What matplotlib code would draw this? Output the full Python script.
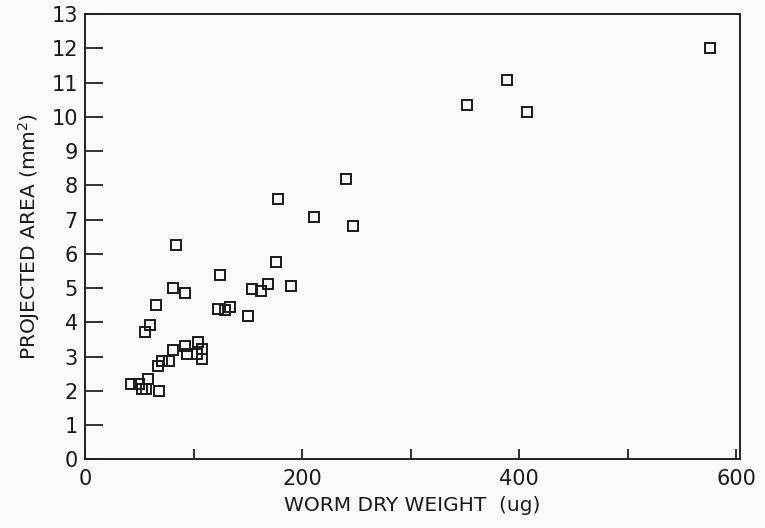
import numpy as np
import matplotlib
matplotlib.use('Agg')
import matplotlib.pyplot as plt

# worm dry weight (ug) vs projected area (mm^2)
weight = [576, 388.5, 352, 407, 240, 178, 211, 247, 84, 176, 124, 81.5, 92.5,
          154, 162, 169, 190, 150, 65, 60, 55, 122.5, 128.7, 133.5,
          81, 92, 104, 94.4, 103.6, 107.8, 107.5, 77.5, 71.4, 67.4,
          58.2, 42, 50, 52.4, 56.7, 67.8]
area = [12.0, 11.07, 10.34, 10.15, 8.19, 7.59, 7.09, 6.83, 6.25, 5.75, 5.39, 5.0, 4.86,
        4.98, 4.92, 5.13, 5.07, 4.2, 4.52, 3.92, 3.73, 4.38, 4.36, 4.44,
        3.19, 3.32, 3.42, 3.09, 3.09, 3.22, 2.94, 2.87, 2.86, 2.74,
        2.35, 2.21, 2.21, 2.06, 2.06, 1.99]

xticks = [0, 100, 200, 300, 400, 500, 600]
xlabels = ['0', '', '200', '', '400', '', '600']
yticks = list(range(0, 14))

plt.rcParams['font.family'] = ['DejaVu Sans']

fig = plt.figure(figsize=(7.65, 5.28), dpi=100)
fig.patch.set_facecolor('#fcf9f7')
ax = fig.add_axes([0.111, 0.130, 0.856, 0.843])
ax.set_facecolor('#fcf9f7')

ax.plot(weight, area, ls='none', marker='s', ms=6.5, mfc='none',
        mec='#1a1a1a', mew=1.4)

ax.set_xlim(0, 603)
ax.set_ylim(0, 13)
ax.set_xticks(xticks)
ax.set_xticklabels(xlabels)
ax.set_yticks(yticks)
ax.tick_params(direction='in', labelsize=15, width=1.3, color='#222222',
               labelcolor='#1a1a1a')
ax.tick_params(axis='x', length=7, pad=7)
ax.tick_params(axis='y', length=13, pad=5)

for s in ax.spines.values():
    s.set_linewidth(1.4)
    s.set_color('#222222')

ax.set_xlabel('WORM DRY WEIGHT  (ug)', fontsize=14.5, labelpad=5, color='#1a1a1a')
ax.set_ylabel('PROJECTED AREA (mm$^2$)', fontsize=14.5, labelpad=7, color='#1a1a1a')

fig.savefig('out.png', dpi=100, facecolor=fig.get_facecolor())
